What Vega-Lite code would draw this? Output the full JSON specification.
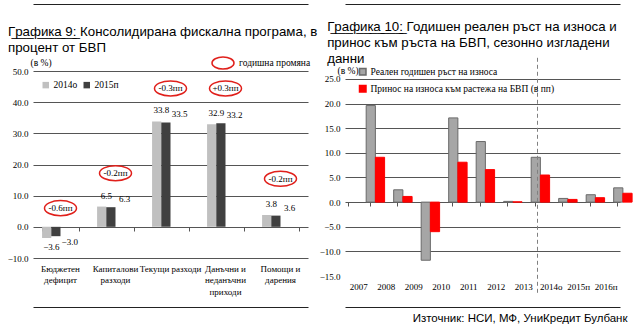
{
  "$schema": "https://vega.github.io/schema/vega-lite/v6.json",
  "padding": {"left": 2, "top": 4, "right": 0, "bottom": 0},
  "background": "white",
  "config": {
    "view": {"stroke": null},
    "font": "Liberation Sans Narrow",
    "axis": {"labelFont": "Liberation Sans Narrow", "labelFontSize": 9, "labelColor": "#000", "titleFont": "Liberation Sans Narrow", "titleFontWeight": "normal", "titleColor": "#000", "titleFontSize": 9.5, "labelOverlap": false},
    "legend": {"labelFont": "Liberation Sans Narrow", "labelFontSize": 9.5, "labelColor": "#000", "labelLimit": 400},
    "title": {"font": "Liberation Sans", "fontWeight": "normal", "fontSize": 13.3, "color": "#000", "anchor": "start", "lineHeight": 16}
  },
  "spacing": 37,
  "bounds": "flush",
  "resolve": {"scale": {"color": "independent", "fill": "independent", "stroke": "independent"}, "legend": {"color": "independent", "fill": "independent", "stroke": "independent"}},
  "hconcat": [
    {
      "width": 275, "height": 187,
      "title": {"text": ["Г̲р̲а̲ф̲и̲к̲а̲ ̲9̲:̲ Консолидирана фискална програма, в", "процент от БВП"], "frame": "bounds", "offset": -50.5, "dx": 6},
      "resolve": {"axis": {"x": "independent"}},
      "encoding": {
        "y": {"field": "value", "type": "quantitative",
          "scale": {"domain": [-10, 50], "nice": false},
          "axis": {"values": [-10, 0, 10, 20, 30, 40, 50], "format": ".1f", "grid": true, "gridColor": "#555", "domain": false, "ticks": false, "labelPadding": 5, "minExtent": 31, "title": "(в %)", "titleAngle": 0, "titleX": -3, "titleY": -9, "titleAlign": "left", "titleBaseline": "middle"}}
      },
      "layer": [
        {
          "data": {"name": "left"},
          "mark": {"type": "bar"},
          "encoding": {
            "x": {"field": "cat", "type": "nominal",
              "scale": {"domain": ["Бюджетен|дефицит", "Капиталови|разходи", "Текущи разходи", "Данъчни и|неданъчни|приходи", "Помощи и|дарения"], "paddingInner": 0.33, "paddingOuter": 0.165},
              "axis": {"orient": "bottom", "domain": false, "ticks": false, "labelAngle": 0, "labelExpr": "split(datum.label, '|')", "labelPadding": 6, "labelLineHeight": 11.5, "labelBaseline": "top", "title": null}},
            "xOffset": {"field": "series", "type": "nominal", "scale": {"domain": ["2014о", "2015п"]}},
            "color": {"field": "series", "type": "nominal", "scale": {"domain": ["2014о", "2015п"], "range": ["#c0c0c0", "#404040"]},
              "legend": {"orient": "none", "legendX": 8, "legendY": 9, "direction": "horizontal", "title": null, "symbolType": "square", "symbolSize": 42, "columnPadding": 4, "labelOffset": 3}}
          }
        },
        {
          "data": {"name": "left"},
          "transform": [{"filter": "datum.value >= 0 && datum.series == '2014о'"}],
          "mark": {"type": "text", "dy": -11, "fontSize": 9},
          "encoding": {
            "x": {"field": "cat", "type": "nominal", "bandPosition": 0.25, "axis": {"orient": "top", "offset": -156, "labels": false, "domain": false, "ticks": true, "tickBand": "extent", "tickSize": -4, "tickColor": "#555", "grid": false, "title": null}},
            "text": {"field": "value", "type": "quantitative", "format": ".1f"}
          }
        },
        {
          "data": {"name": "left"},
          "transform": [{"filter": "datum.value >= 0 && datum.series == '2015п'"}],
          "mark": {"type": "text", "dy": -8, "fontSize": 9},
          "encoding": {
            "x": {"field": "cat", "type": "nominal", "bandPosition": 0.75, "axis": null},
            "text": {"field": "value", "type": "quantitative", "format": ".1f"}
          }
        },
        {
          "data": {"name": "left"},
          "transform": [{"filter": "datum.value < 0 && datum.series == '2014о'"}],
          "mark": {"type": "text", "dy": 9, "fontSize": 9},
          "encoding": {
            "x": {"field": "cat", "type": "nominal", "bandPosition": 0.25, "axis": null},
            "text": {"field": "value", "type": "quantitative", "format": ".1f"}
          }
        },
        {
          "data": {"name": "left"},
          "transform": [{"filter": "datum.value < 0 && datum.series == '2015п'"}],
          "mark": {"type": "text", "dy": 6, "fontSize": 9},
          "encoding": {
            "x": {"field": "cat", "type": "nominal", "bandPosition": 0.75, "axis": null},
            "text": {"field": "value", "type": "quantitative", "format": ".1f"}
          }
        },
        {
          "data": {"name": "notes"},
          "mark": {"type": "point", "shape": "M -1 0 C -1 -0.26 -0.55 -0.47 0 -0.47 C 0.55 -0.47 1 -0.26 1 0 C 1 0.26 0.55 0.47 0 0.47 C -0.55 0.47 -1 0.26 -1 0 Z", "size": 1024, "filled": false, "strokeWidth": 1.5, "opacity": 1},
          "encoding": {
            "x": {"field": "cat", "type": "nominal", "axis": {"orient": "top", "offset": 67, "domain": true, "domainColor": "#222", "domainWidth": 1, "labels": false, "ticks": false, "grid": false, "title": null}},
            "stroke": {"datum": "годишна промяна", "scale": {"domain": ["годишна промяна"], "range": ["#e0201b"]},
              "legend": {"orient": "none", "legendX": 178, "legendY": -20, "title": null, "symbolType": "M -1 0 C -1 -0.3 -0.55 -0.55 0 -0.55 C 0.55 -0.55 1 -0.3 1 0 C 1 0.3 0.55 0.55 0 0.55 C -0.55 0.55 -1 0.3 -1 0 Z", "symbolSize": 484, "symbolStrokeWidth": 1.5, "symbolFillColor": "transparent", "labelOffset": 4}}
          }
        },
        {
          "data": {"name": "notes"},
          "mark": {"type": "text", "fontSize": 9},
          "encoding": {
            "x": {"field": "cat", "type": "nominal", "axis": {"orient": "bottom", "offset": 49, "domain": true, "domainColor": "#222", "domainWidth": 1, "labels": false, "ticks": false, "grid": false, "title": null}},
            "text": {"field": "label", "type": "nominal"}
          }
        }
      ]
    },
    {
      "width": 275, "height": 205,
      "title": {"text": ["Г̲р̲а̲ф̲и̲к̲а̲ ̲1̲0̲:̲ Годишен реален ръст на износа и", "принос към ръста на БВП, сезонно изгладени", "данни"], "frame": "bounds", "offset": -61.5, "dx": 8},
      "resolve": {"axis": {"x": "independent"}},
      "encoding": {
        "y": {"field": "value", "type": "quantitative",
          "scale": {"domain": [-15, 26.62], "nice": false},
          "axis": {"values": [-15, -10, -5, 0, 5, 10, 15, 20, 25], "format": ".1f", "grid": true, "gridColor": {"condition": {"test": "datum.value == -15", "value": "transparent"}, "value": "#555"}, "domain": false, "ticks": false, "labelPadding": 5, "title": "(в %)", "titleAngle": 0, "titleX": -8, "titleY": -1, "titleAlign": "left", "titleBaseline": "middle"}}
      },
      "layer": [
        {
          "data": {"name": "right"},
          "mark": {"type": "bar", "strokeWidth": 1},
          "encoding": {
            "x": {"field": "year", "type": "nominal",
              "scale": {"domain": ["2007", "2008", "2009", "2010", "2011", "2012", "2013", "2014о", "2015п", "2016п"], "paddingInner": 0.2, "paddingOuter": 0.1},
              "axis": {"orient": "bottom", "domain": false, "ticks": false, "labelAngle": 0, "labelPadding": 6, "labelBaseline": "top", "title": null}},
            "xOffset": {"field": "series", "type": "nominal", "scale": {"domain": ["Реален годишен ръст на износа", "Принос на износа към растежа на БВП (в пп)"]}},
            "fill": {"field": "series", "type": "nominal", "scale": {"domain": ["Реален годишен ръст на износа", "Принос на износа към растежа на БВП (в пп)"], "range": ["#a6a6a6", "#ff0000"]},
              "legend": {"orient": "none", "legendX": 13, "legendY": -4, "direction": "vertical", "title": null, "symbolType": "square", "symbolSize": 42, "rowPadding": 4, "labelOffset": 3}},
            "stroke": {"field": "series", "type": "nominal", "scale": {"domain": ["Реален годишен ръст на износа", "Принос на износа към растежа на БВП (в пп)"], "range": ["#6a6a6a", "#ff0000"]},
              "legend": {"orient": "none", "legendX": 13, "legendY": -4, "direction": "vertical", "title": null, "symbolType": "square", "symbolSize": 42, "rowPadding": 4, "labelOffset": 3}}
          }
        },
        {
          "data": {"name": "divider"},
          "mark": {"type": "rule", "strokeDash": [4, 3], "color": "#808080", "strokeWidth": 1},
          "encoding": {
            "x": {"field": "year", "type": "nominal", "bandPosition": 1.125, "axis": {"orient": "top", "offset": -131, "labels": false, "domain": false, "ticks": true, "tickBand": "extent", "tickSize": -4, "tickColor": "#555", "grid": false, "title": null}},
            "y2": {"field": "value2"}
          }
        },
        {
          "data": {"name": "divider"},
          "mark": {"type": "point", "opacity": 0},
          "encoding": {
            "x": {"field": "year", "type": "nominal", "axis": {"orient": "top", "offset": 67, "domain": true, "domainColor": "#222", "domainWidth": 1, "labels": false, "ticks": false, "grid": false, "title": null}}
          }
        },
        {
          "data": {"name": "divider"},
          "mark": {"type": "point", "opacity": 0},
          "encoding": {
            "x": {"field": "year", "type": "nominal", "axis": {"orient": "bottom", "offset": 31, "domain": true, "domainColor": "#222", "domainWidth": 1, "labels": false, "ticks": false, "grid": false, "title": "Източник: НСИ, МФ, УниКредит Булбанк", "titleFont": "Liberation Sans", "titleFontSize": 11.5, "titleFontWeight": "normal", "titleColor": "#000", "titleAngle": 0, "titleAlign": "right", "titleBaseline": "middle", "titleX": 282, "titleY": 11}}
          }
        }
      ]
    }
  ],
  "datasets": {
    "left": [
      {"cat": "Бюджетен|дефицит", "series": "2014о", "value": -3.6},
      {"cat": "Бюджетен|дефицит", "series": "2015п", "value": -3.0},
      {"cat": "Капиталови|разходи", "series": "2014о", "value": 6.5},
      {"cat": "Капиталови|разходи", "series": "2015п", "value": 6.3},
      {"cat": "Текущи разходи", "series": "2014о", "value": 33.8},
      {"cat": "Текущи разходи", "series": "2015п", "value": 33.5},
      {"cat": "Данъчни и|неданъчни|приходи", "series": "2014о", "value": 32.9},
      {"cat": "Данъчни и|неданъчни|приходи", "series": "2015п", "value": 33.2},
      {"cat": "Помощи и|дарения", "series": "2014о", "value": 3.8},
      {"cat": "Помощи и|дарения", "series": "2015п", "value": 3.6}
    ],
    "notes": [
      {"cat": "Бюджетен|дефицит", "value": 6.0, "label": "-0.6пп"},
      {"cat": "Капиталови|разходи", "value": 17.2, "label": "-0.2пп"},
      {"cat": "Текущи разходи", "value": 44.4, "label": "-0.3пп"},
      {"cat": "Данъчни и|неданъчни|приходи", "value": 44.4, "label": "+0.3пп"},
      {"cat": "Помощи и|дарения", "value": 15.4, "label": "-0.2пп"}
    ],
    "divider": [
      {"year": "2013", "value": 29.3, "value2": -18.6}
    ],
    "right": [
      {"year": "2007", "series": "Реален годишен ръст на износа", "value": 19.6},
      {"year": "2007", "series": "Принос на износа към растежа на БВП (в пп)", "value": 9.1},
      {"year": "2008", "series": "Реален годишен ръст на износа", "value": 2.5},
      {"year": "2008", "series": "Принос на износа към растежа на БВП (в пп)", "value": 1.15},
      {"year": "2009", "series": "Реален годишен ръст на износа", "value": -11.8},
      {"year": "2009", "series": "Принос на износа към растежа на БВП (в пп)", "value": -6.0},
      {"year": "2010", "series": "Реален годишен ръст на износа", "value": 17.1},
      {"year": "2010", "series": "Принос на износа към растежа на БВП (в пп)", "value": 8.1},
      {"year": "2011", "series": "Реален годишен ръст на износа", "value": 12.3},
      {"year": "2011", "series": "Принос на износа към растежа на БВП (в пп)", "value": 6.6},
      {"year": "2012", "series": "Реален годишен ръст на износа", "value": 0.15},
      {"year": "2012", "series": "Принос на износа към растежа на БВП (в пп)", "value": 0.05},
      {"year": "2013", "series": "Реален годишен ръст на износа", "value": 9.1},
      {"year": "2013", "series": "Принос на износа към растежа на БВП (в пп)", "value": 5.5},
      {"year": "2014о", "series": "Реален годишен ръст на износа", "value": 0.75},
      {"year": "2014о", "series": "Принос на износа към растежа на БВП (в пп)", "value": 0.55},
      {"year": "2015п", "series": "Реален годишен ръст на износа", "value": 1.5},
      {"year": "2015п", "series": "Принос на износа към растежа на БВП (в пп)", "value": 0.9},
      {"year": "2016п", "series": "Реален годишен ръст на износа", "value": 2.9},
      {"year": "2016п", "series": "Принос на износа към растежа на БВП (в пп)", "value": 1.8}
    ]
  }
}
